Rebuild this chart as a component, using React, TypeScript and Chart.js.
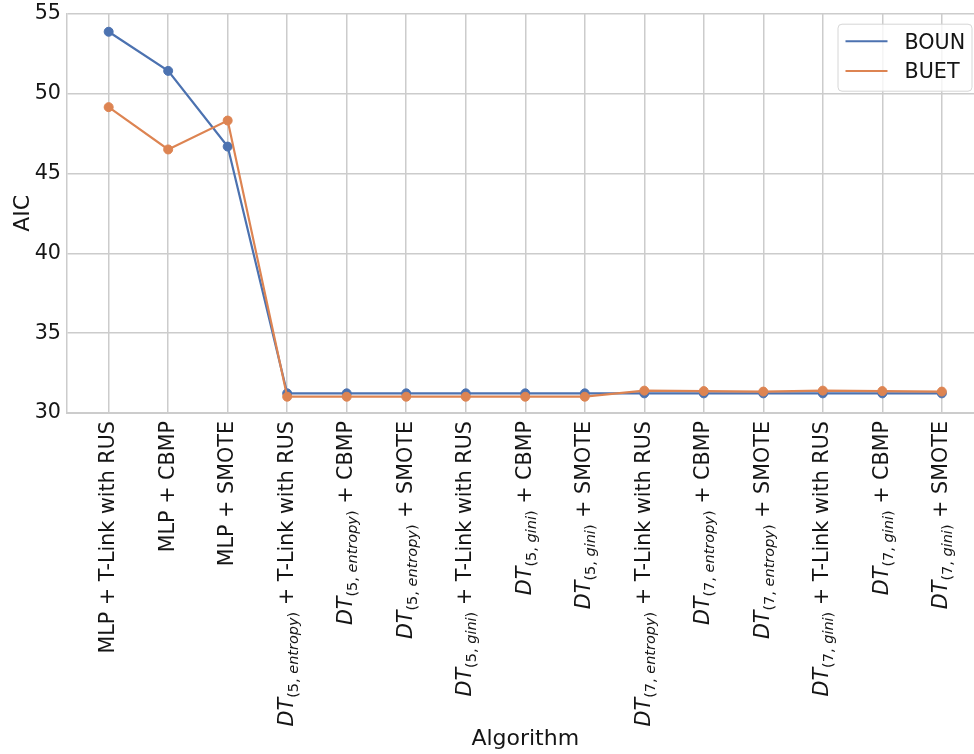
import React, { useEffect, useRef } from 'react';
import { Chart, registerables } from 'chart.js';

Chart.register(...registerables);

// ---- data ----
const categories: string[] = [
  'MLP + T-Link with RUS',
  'MLP + CBMP',
  'MLP + SMOTE',
  '$DT_{(5, entropy)}$ + T-Link with RUS',
  '$DT_{(5, entropy)}$ + CBMP',
  '$DT_{(5, entropy)}$ + SMOTE',
  '$DT_{(5, gini)}$ + T-Link with RUS',
  '$DT_{(5, gini)}$ + CBMP',
  '$DT_{(5, gini)}$ + SMOTE',
  '$DT_{(7, entropy)}$ + T-Link with RUS',
  '$DT_{(7, entropy)}$ + CBMP',
  '$DT_{(7, entropy)}$ + SMOTE',
  '$DT_{(7, gini)}$ + T-Link with RUS',
  '$DT_{(7, gini)}$ + CBMP',
  '$DT_{(7, gini)}$ + SMOTE',
];
const bounValues: number[] = [
  53.87, 51.42, 46.68,
  31.23, 31.23, 31.23,
  31.23, 31.23, 31.23,
  31.23, 31.23, 31.23,
  31.23, 31.23, 31.23,
];
const buetValues: number[] = [
  49.15, 46.5, 48.31,
  31.02, 31.02, 31.02,
  31.02, 31.02, 31.02,
  31.4, 31.37, 31.34,
  31.4, 31.37, 31.34,
];
const seriesNames: string[] = ['BOUN', 'BUET'];
const seriesColors: string[] = ['#4c72b0', '#dd8452'];
const yTickValues: number[] = [30, 35, 40, 45, 50, 55];
const yTitle = 'AIC';
const xTitle = 'Algorithm';

// ---- styling ----
const FONT = '"DejaVu Sans"';
const TEXT = '#151515';
const GRID = '#cccccc';
const TICK_SIZE = 20.7;

type Run = { text: string; font: string; dy: number; w?: number };

function parseLabel(s: string): Run[] {
  const base = `${TICK_SIZE}px ${FONT}`;
  const m = s.match(/^\$([A-Za-z]+)_\{\((\d+),\s*([a-z]+)\)\}\$(.*)$/);
  if (!m) return [{ text: s, font: base, dy: 0 }];
  const it = `italic ${TICK_SIZE}px ${FONT}`;
  const subSize = TICK_SIZE * 0.7;
  const sub = `${subSize}px ${FONT}`;
  const subIt = `italic ${subSize}px ${FONT}`;
  return [
    { text: m[1], font: it, dy: 0 },
    { text: '(' + m[2] + ', ', font: sub, dy: 5 },
    { text: m[3], font: subIt, dy: 5 },
    { text: ')', font: sub, dy: 5 },
    { text: m[4], font: base, dy: 0 },
  ];
}

const xLabelPlugin = {
  id: 'mathTickLabels',
  afterDraw(chart: any) {
    const ctx: CanvasRenderingContext2D = chart.ctx;
    const xs = chart.scales.x;
    const yb = chart.chartArea.bottom;
    ctx.save();
    ctx.fillStyle = TEXT;
    ctx.textBaseline = 'alphabetic';
    ctx.textAlign = 'left';
    categories.forEach((lab, i) => {
      const runs = parseLabel(lab);
      let W = 0;
      runs.forEach((r) => {
        ctx.font = r.font;
        r.w = ctx.measureText(r.text).width;
        W += r.w;
      });
      ctx.save();
      ctx.translate(xs.getPixelForValue(i) + 5.5, yb + 8);
      ctx.rotate(-Math.PI / 2);
      let x = -W;
      runs.forEach((r) => {
        ctx.font = r.font;
        ctx.fillText(r.text, x, r.dy);
        x += r.w as number;
      });
      ctx.restore();
    });
    ctx.restore();
  },
};

const legendPlugin = {
  id: 'innerLegend',
  afterDraw(chart: any) {
    const ctx: CanvasRenderingContext2D = chart.ctx;
    const a = chart.chartArea;
    const boxW = 134;
    const boxH = 67;
    const right = a.right - 12;
    const top = a.top + 10;
    const left = right - boxW;
    ctx.save();
    ctx.beginPath();
    (ctx as any).roundRect(left + 0.5, top + 0.5, boxW, boxH, 4);
    ctx.fillStyle = 'rgba(255,255,255,0.8)';
    ctx.fill();
    ctx.strokeStyle = '#d6d6d6';
    ctx.lineWidth = 1;
    ctx.stroke();
    chart.data.datasets.forEach((ds: any, i: number) => {
      const y = top + 17.5 + i * 29.7;
      ctx.strokeStyle = ds.borderColor;
      ctx.lineWidth = 2;
      ctx.beginPath();
      ctx.moveTo(left + 8, y);
      ctx.lineTo(left + 50, y);
      ctx.stroke();
      ctx.fillStyle = TEXT;
      ctx.font = `${TICK_SIZE}px ${FONT}`;
      ctx.textBaseline = 'alphabetic';
      ctx.textAlign = 'left';
      ctx.fillText(ds.label, left + 67, y + 7.5);
    });
    ctx.restore();
  },
};

export default function App() {
  const ref = useRef<HTMLCanvasElement>(null);

  useEffect(() => {
    const canvas = ref.current;
    if (!canvas) return;
    const values = [bounValues, buetValues];
    const chart = new Chart(canvas, {
      type: 'line',
      data: {
        datasets: seriesNames.map((name, k) => ({
          label: name,
          data: values[k].map((y, i) => ({ x: i, y })),
          borderColor: seriesColors[k],
          backgroundColor: seriesColors[k],
          pointBackgroundColor: seriesColors[k],
          pointBorderColor: seriesColors[k],
          pointRadius: 4.5,
          pointBorderWidth: 1,
          borderWidth: 2.2,
          tension: 0,
          fill: false,
          order: seriesNames.length - k,
        })),
      },
      options: {
        animation: false,
        responsive: false,
        events: [],
        layout: { padding: { top: 13.7, right: 0, bottom: 0, left: 0 } },
        plugins: {
          legend: { display: false },
          tooltip: { enabled: false },
        },
        scales: {
          x: {
            type: 'linear',
            min: -0.7,
            max: categories.length - 1 + 0.7,
            afterBuildTicks: (scale: any) => {
              scale.ticks = categories.map((_, i) => ({ value: i }));
            },
            afterFit: (scale: any) => {
              scale.height = 341;
            },
            ticks: { display: false },
            grid: { color: GRID, lineWidth: 1.5, drawTicks: false },
            border: { display: true, color: GRID, width: 2 },
            title: {
              display: true,
              text: xTitle,
              color: TEXT,
              font: { family: 'DejaVu Sans', size: 22 },
              padding: { top: 0, bottom: 2 },
            },
          },
          y: {
            type: 'linear',
            min: 30,
            max: 55,
            afterBuildTicks: (scale: any) => {
              scale.ticks = yTickValues.map((v) => ({ value: v }));
            },
            afterFit: (scale: any) => {
              scale.width = 67;
              scale.paddingTop = 0;
              scale.paddingBottom = 0;
            },
            ticks: {
              color: TEXT,
              font: { family: 'DejaVu Sans', size: TICK_SIZE },
              padding: 6,
            },
            grid: { color: GRID, lineWidth: 1.5, drawTicks: false },
            border: { display: true, color: GRID, width: 1.5 },
            title: {
              display: true,
              text: yTitle,
              color: TEXT,
              font: { family: 'DejaVu Sans', size: 22 },
              padding: { top: 10, bottom: 0 },
            },
          },
        },
      },
      plugins: [xLabelPlugin, legendPlugin],
    } as any);
    return () => chart.destroy();
  }, []);

  return (
    <div
      style={{
        position: 'fixed',
        left: 0,
        top: 0,
        width: 974,
        height: 754,
        overflow: 'hidden',
        background: '#ffffff',
      }}
    >
      <canvas ref={ref} width={989} height={754} style={{ display: 'block', width: 989, height: 754 }} />
    </div>
  );
}
